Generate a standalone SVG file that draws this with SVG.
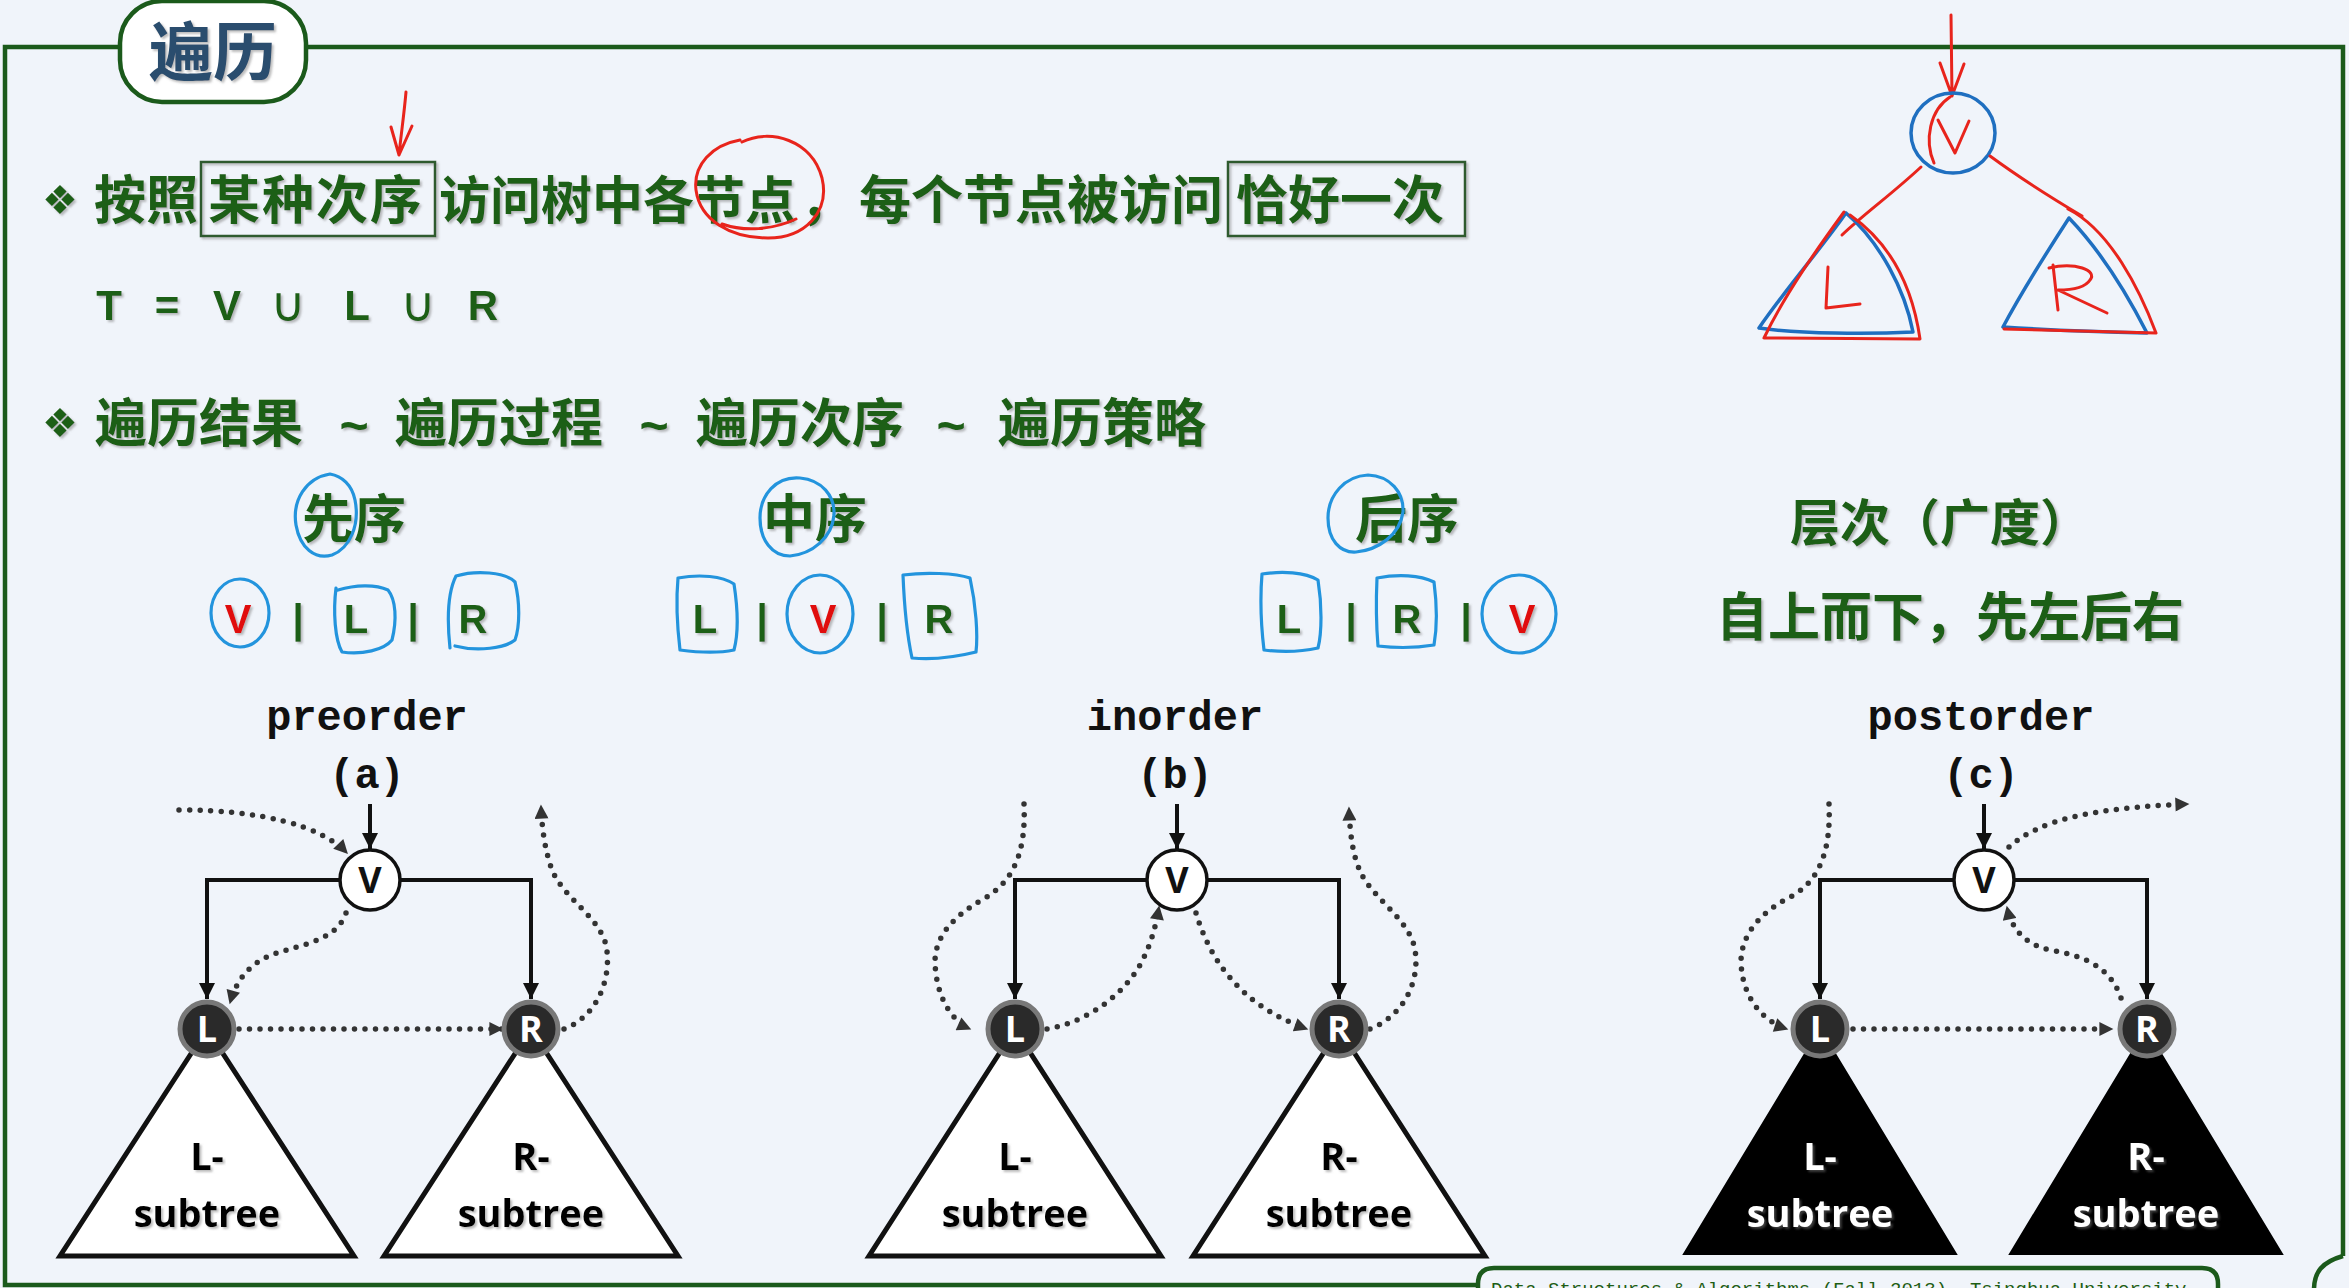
<svg xmlns="http://www.w3.org/2000/svg" width="2349" height="1288" viewBox="0 0 2349 1288">
<style>
.cn{font-family:"Noto Sans CJK SC","Noto Sans",sans-serif;font-weight:700;fill:#1E5E14}
.sym{font-family:"DejaVu Sans",sans-serif;fill:#1E5E14}
.lat{font-family:"Liberation Sans",Arial,sans-serif;font-weight:700;fill:#1E5E14}
.red{fill:#E01010}
.mono{font-family:"Liberation Mono","Courier New",monospace;font-weight:700;fill:#111;font-size:42px;text-anchor:middle}
.frame{fill:none;stroke:#1B5A1B;stroke-width:4.5}
.gbox{fill:none;stroke:#2D5A2D;stroke-width:2.5}
.blue{fill:none;stroke:#2394DD;stroke-width:3.2;stroke-linecap:round;stroke-linejoin:round}
.rpen{fill:none;stroke:#E8241C;stroke-width:3;stroke-linecap:round;stroke-linejoin:round}
.bpen{fill:none;stroke:#1F6FC0;stroke-width:3.5;stroke-linecap:round;stroke-linejoin:round}
.edge{fill:none;stroke:#111;stroke-width:4}
.dot{fill:none;stroke:#333;stroke-width:5.5;stroke-dasharray:0 10.5;stroke-linecap:round}
.tri{fill:#fff;stroke:#111;stroke-width:5;stroke-linejoin:miter}
.trib{fill:#000;stroke:#000;stroke-width:2}
.vn{fill:#fff;stroke:#111;stroke-width:3.5}
.dn{fill:#2a2a2a;stroke:#787878;stroke-width:5}
.nl{font-family:"Open Sans","DejaVu Sans",sans-serif;font-weight:700;font-size:36px;text-anchor:middle}
.st{font-family:"Open Sans","DejaVu Sans",sans-serif;font-weight:700;font-size:38px;text-anchor:middle}
</style>
<defs>
<filter id="sh" x="-5%" y="-5%" width="110%" height="120%"><feDropShadow dx="2" dy="2" stdDeviation="1" flood-color="#7a7a7a" flood-opacity="0.5"/></filter>
<marker id="ah" viewBox="0 0 10 10" refX="10" refY="5" markerWidth="16" markerHeight="16" markerUnits="userSpaceOnUse" orient="auto"><path d="M0,0 L10,5 L0,10 z" fill="#111"/></marker>
<marker id="dh" viewBox="0 0 10 10" refX="9" refY="5" markerWidth="15" markerHeight="14" markerUnits="userSpaceOnUse" orient="auto"><path d="M0,0 L10,5 L0,10 z" fill="#333"/></marker>
</defs>

<rect width="2349" height="1288" fill="#F0F4FA"/>

<g id="frame">
<path class="frame" d="M120,47 H5 V1285 H1478 M306,47 H2343 V1256"/>
<path class="frame" d="M1478,1290 V1284 Q1478,1268 1494,1268 H2202 Q2218,1268 2218,1284 V1290" fill="#F6FAF6"/>
<path class="frame" d="M2314,1290 C2314,1272 2322,1262 2343,1256"/>
<text x="1491" y="1295" font-family="Liberation Mono,monospace" font-size="19" fill="#1E5E14">Data Structures &amp; Algorithms (Fall 2013), Tsinghua University</text>
</g>

<g id="title">
<rect x="120" y="1" width="186" height="101" rx="42" fill="#fff" stroke="#1B5A1B" stroke-width="4.5"/>
<text x="213" y="75" font-family="Noto Sans CJK SC,sans-serif" font-weight="700" font-size="64" fill="#2C4E6E" text-anchor="middle" filter="url(#sh)">遍历</text>
</g>

<g id="line1" filter="url(#sh)">
<text class="sym" x="60" y="214" font-size="40" text-anchor="middle">❖</text>
<text class="cn" x="94" y="219" font-size="52">按照</text>
<rect class="gbox" x="201" y="162" width="234" height="74"/>
<text class="cn" x="208" y="219" font-size="52" letter-spacing="2">某种次序</text>
<text class="cn" x="439" y="219" font-size="51">访问树中各节点</text>
<text class="cn" x="800" y="219" font-size="52">，</text>
<text class="cn" x="859" y="219" font-size="52">每个节点被访问</text>
<rect class="gbox" x="1228" y="162" width="237" height="74"/>
<text class="cn" x="1236" y="219" font-size="52">恰好一次</text>
</g>

<g id="line2" filter="url(#sh)">
<text class="lat" font-size="42" text-anchor="middle" y="320"><tspan x="109">T</tspan><tspan x="167">=</tspan><tspan x="227">V</tspan><tspan x="357">L</tspan><tspan x="483">R</tspan></text>
<text class="sym" font-size="48" text-anchor="middle" y="321"><tspan x="288">∪</tspan><tspan x="418">∪</tspan></text>
</g>

<g id="line3" filter="url(#sh)">
<text class="sym" x="60" y="437" font-size="40" text-anchor="middle">❖</text>
<text class="cn" x="95" y="442" font-size="52">遍历结果</text>
<text class="lat" x="354" y="443" font-size="50" text-anchor="middle">~</text>
<text class="cn" x="395" y="442" font-size="52">遍历过程</text>
<text class="lat" x="654" y="443" font-size="50" text-anchor="middle">~</text>
<text class="cn" x="696" y="442" font-size="52">遍历次序</text>
<text class="lat" x="951" y="443" font-size="50" text-anchor="middle">~</text>
<text class="cn" x="998" y="442" font-size="52">遍历策略</text>
</g>

<g id="orders" filter="url(#sh)">
<text class="cn" x="302" y="538" font-size="52">先序</text>
<text class="cn" x="763" y="538" font-size="52">中序</text>
<text class="cn" x="1355" y="538" font-size="52">后序</text>
<text class="cn" x="1790" y="541" font-size="50">层次（广度）</text>
<text class="cn" x="1716" y="636" font-size="52">自上而下，先左后右</text>
<text class="lat" font-size="40" text-anchor="middle" y="633"><tspan class="red" x="238">V</tspan><tspan x="298">|</tspan><tspan x="356">L</tspan><tspan x="413">|</tspan><tspan x="473">R</tspan></text>
<text class="lat" font-size="40" text-anchor="middle" y="633"><tspan x="705">L</tspan><tspan x="762">|</tspan><tspan class="red" x="823">V</tspan><tspan x="882">|</tspan><tspan x="939">R</tspan></text>
<text class="lat" font-size="40" text-anchor="middle" y="633"><tspan x="1289">L</tspan><tspan x="1351">|</tspan><tspan x="1407">R</tspan><tspan x="1466">|</tspan><tspan class="red" x="1522">V</tspan></text>
</g>

<g id="blue-notes">
<path class="blue" d="M330,474 C306,478 292,500 296,525 C300,548 315,560 332,555 C350,548 360,525 355,500 C352,485 342,476 330,474"/>
<ellipse class="blue" cx="240" cy="613" rx="29" ry="34"/>
<path class="blue" d="M336,588 C333,612 335,640 342,652 C362,655 384,650 392,640 C397,620 396,600 388,590 C375,584 355,585 338,590"/>
<path class="blue" d="M450,648 C447,620 448,592 456,576 C476,570 505,572 515,582 C520,602 520,626 515,640 C505,648 478,652 455,646"/>
<path class="blue" d="M800,478 C776,476 760,495 760,518 C760,540 772,556 790,556 C812,554 832,538 834,515 C835,496 822,480 800,478"/>
<path class="blue" d="M678,578 C700,574 722,576 734,584 C738,610 738,635 734,650 C715,654 695,652 680,650 C677,625 676,600 678,578"/>
<ellipse class="blue" cx="820" cy="614" rx="33" ry="39"/>
<path class="blue" d="M903,575 C925,572 955,573 970,578 C976,605 978,635 976,652 C960,656 935,660 912,658 C906,630 904,600 903,575"/>
<path class="blue" d="M1368,475 C1345,476 1328,495 1328,518 C1328,540 1340,553 1356,552 C1378,550 1400,535 1403,512 C1404,492 1390,476 1368,475"/>
<path class="blue" d="M1262,574 C1282,571 1305,572 1318,580 C1322,605 1322,632 1318,648 C1300,652 1280,652 1264,650 C1261,625 1260,598 1262,574"/>
<path class="blue" d="M1377,578 C1398,574 1420,575 1434,582 C1437,605 1437,628 1434,645 C1416,648 1395,648 1378,646 C1376,622 1376,600 1377,578"/>
<ellipse class="blue" cx="1519" cy="614" rx="37" ry="39"/>
</g>

<g id="red-notes">
<path class="rpen" d="M406,92 C404,115 401,135 399,155 M391,127 L399,155 L412,126"/>
<path class="rpen" d="M742,142 C770,128 812,140 822,178 C830,212 805,238 768,238 C730,238 700,220 696,190 C693,165 712,145 740,140 M722,224 C745,232 772,230 796,219"/>
</g>

<g id="sketch">
<path class="rpen" d="M1951,15 L1952,96 M1940,63 L1952,96 L1964,64"/>
<ellipse class="bpen" cx="1953" cy="133" rx="42" ry="40"/>
<path class="rpen" d="M1950,97 C1930,110 1924,140 1934,163"/>
<path class="rpen" d="M1938,120 L1955,153 L1969,121"/>
<path class="rpen" d="M1921,167 C1892,194 1864,214 1842,235"/>
<path class="rpen" d="M1990,156 C2020,178 2055,200 2082,216"/>
<path class="bpen" d="M1846,213 C1820,250 1785,290 1759,328 C1800,334 1870,334 1913,332 C1905,290 1880,242 1846,213"/>
<path class="rpen" d="M1844,212 C1820,245 1786,292 1764,338 L1920,339 C1913,290 1893,245 1850,215"/>
<path class="rpen" d="M1828,267 L1826,308 L1860,304"/>
<path class="bpen" d="M2069,218 C2045,255 2020,295 2003,327 C2050,330 2100,332 2147,333 C2125,290 2100,250 2069,218"/>
<path class="rpen" d="M2068,209 C2110,230 2140,290 2156,333 L2004,329"/>
<path class="rpen" d="M2053,265 L2058,310 M2049,268 C2075,262 2098,270 2090,280 C2085,288 2070,290 2058,290 L2107,313"/>
</g>

<g id="labels">
<text class="mono" x="367" y="730">preorder</text>
<text class="mono" x="367" y="788">(a)</text>
<text class="mono" x="1175" y="730">inorder</text>
<text class="mono" x="1175" y="788">(b)</text>
<text class="mono" x="1981" y="730">postorder</text>
<text class="mono" x="1981" y="788">(c)</text>
</g>

<g id="subtrees">
<g id="a-Lsub"><path class="tri" d="M207,1029 L60,1256 L354,1256 Z"/><text class="st" x="207" y="1170" filter="url(#sh)">L-</text><text class="st" x="207" y="1227" filter="url(#sh)">subtree</text></g>
<g id="a-Rsub"><path class="tri" d="M531,1029 L384,1256 L678,1256 Z"/><text class="st" x="531" y="1170" filter="url(#sh)">R-</text><text class="st" x="531" y="1227" filter="url(#sh)">subtree</text></g>
<g id="b-Lsub"><path class="tri" d="M1015,1029 L869,1256 L1161,1256 Z"/><text class="st" x="1015" y="1170" filter="url(#sh)">L-</text><text class="st" x="1015" y="1227" filter="url(#sh)">subtree</text></g>
<g id="b-Rsub"><path class="tri" d="M1339,1029 L1193,1256 L1485,1256 Z"/><text class="st" x="1339" y="1170" filter="url(#sh)">R-</text><text class="st" x="1339" y="1227" filter="url(#sh)">subtree</text></g>
<g id="c-Lsub"><path class="trib" d="M1820,1029 L1684,1254 L1956,1254 Z"/><text class="st" x="1820" y="1170" fill="#fff" filter="url(#sh)">L-</text><text class="st" x="1820" y="1227" fill="#fff" filter="url(#sh)">subtree</text></g>
<g id="c-Rsub"><path class="trib" d="M2146,1029 L2010,1254 L2282,1254 Z"/><text class="st" x="2146" y="1170" fill="#fff" filter="url(#sh)">R-</text><text class="st" x="2146" y="1227" fill="#fff" filter="url(#sh)">subtree</text></g>
</g>

<g id="connectors">
<path class="edge" d="M370,804 V849" marker-end="url(#ah)"/>
<path class="edge" d="M370,880 H207 V999" marker-end="url(#ah)"/>
<path class="edge" d="M370,880 H531 V999" marker-end="url(#ah)"/>
<path class="edge" d="M1177,804 V849" marker-end="url(#ah)"/>
<path class="edge" d="M1177,880 H1015 V999" marker-end="url(#ah)"/>
<path class="edge" d="M1177,880 H1339 V999" marker-end="url(#ah)"/>
<path class="edge" d="M1984,804 V849" marker-end="url(#ah)"/>
<path class="edge" d="M1984,880 H1820 V999" marker-end="url(#ah)"/>
<path class="edge" d="M1984,880 H2147 V999" marker-end="url(#ah)"/>

<path class="dot" d="M179,810 C260,810 320,825 347,853" marker-end="url(#dh)"/>
<path class="dot" d="M346,913 C335,945 290,945 265,958 C245,968 235,985 230,1003" marker-end="url(#dh)"/>
<path class="dot" d="M239,1029 L502,1029" marker-end="url(#dh)"/>
<path class="dot" d="M564,1029 C600,1015 612,975 606,945 C598,915 565,900 552,870 C545,850 542,830 541,806" marker-end="url(#dh)"/>

<path class="dot" d="M1024,804 C1026,850 1015,880 985,898 C955,915 935,935 935,962 C936,995 950,1020 970,1029" marker-end="url(#dh)"/>
<path class="dot" d="M1047,1029 C1090,1022 1130,990 1145,955 C1152,940 1156,925 1159,907" marker-end="url(#dh)"/>
<path class="dot" d="M1196,913 C1210,960 1240,1005 1307,1029" marker-end="url(#dh)"/>
<path class="dot" d="M1370,1029 C1405,1015 1420,980 1415,950 C1410,920 1375,900 1362,875 C1353,858 1350,835 1349,808" marker-end="url(#dh)"/>

<path class="dot" d="M1829,804 C1831,850 1820,880 1792,896 C1760,912 1741,935 1741,962 C1742,995 1760,1020 1787,1029" marker-end="url(#dh)"/>
<path class="dot" d="M1853,1029 L2112,1029" marker-end="url(#dh)"/>
<path class="dot" d="M2121,998 C2110,965 2080,955 2050,950 C2025,944 2012,930 2007,907" marker-end="url(#dh)"/>
<path class="dot" d="M2009,847 C2040,820 2090,808 2188,804" marker-end="url(#dh)"/>
</g>

<g id="nodes">
<g id="a-V"><circle class="vn" cx="370" cy="880" r="30"/><text class="nl" x="370" y="893" fill="#111">V</text></g>
<g id="a-L"><circle class="dn" cx="207" cy="1029" r="27"/><text class="nl" x="207" y="1042" fill="#fff">L</text></g>
<g id="a-R"><circle class="dn" cx="531" cy="1029" r="27"/><text class="nl" x="531" y="1042" fill="#fff">R</text></g>
<g id="b-V"><circle class="vn" cx="1177" cy="880" r="30"/><text class="nl" x="1177" y="893" fill="#111">V</text></g>
<g id="b-L"><circle class="dn" cx="1015" cy="1029" r="27"/><text class="nl" x="1015" y="1042" fill="#fff">L</text></g>
<g id="b-R"><circle class="dn" cx="1339" cy="1029" r="27"/><text class="nl" x="1339" y="1042" fill="#fff">R</text></g>
<g id="c-V"><circle class="vn" cx="1984" cy="880" r="30"/><text class="nl" x="1984" y="893" fill="#111">V</text></g>
<g id="c-L"><circle class="dn" cx="1820" cy="1029" r="27"/><text class="nl" x="1820" y="1042" fill="#fff">L</text></g>
<g id="c-R"><circle class="dn" cx="2147" cy="1029" r="27"/><text class="nl" x="2147" y="1042" fill="#fff">R</text></g>
</g>
</svg>
